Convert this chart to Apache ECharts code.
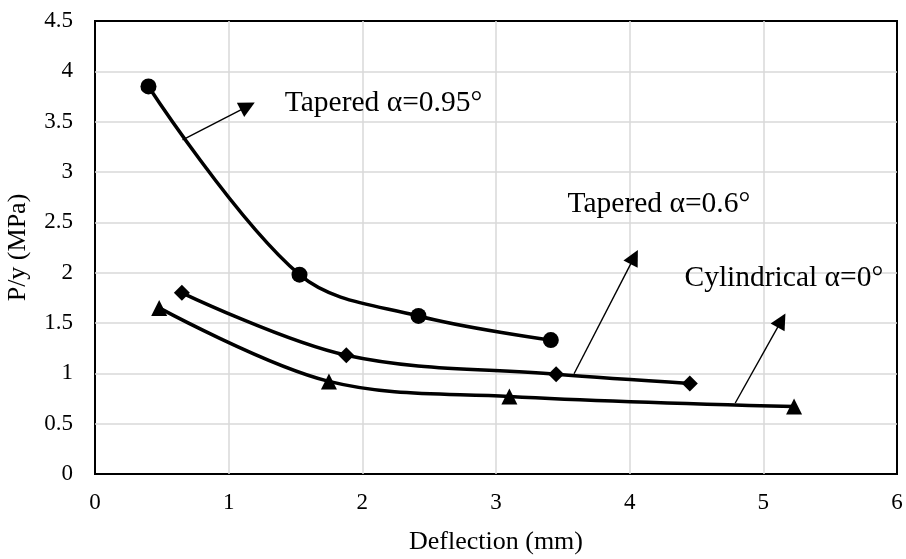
<!DOCTYPE html>
<html>
<head>
<meta charset="utf-8">
<script src="https://cdn.jsdelivr.net/npm/echarts@6/dist/echarts.min.js"></script>
<style>
  html, body { margin: 0; padding: 0; background: #fff; }
  #chart { width: 906px; height: 559px; }
</style>
</head>
<body>
<div id="chart"></div>
<script>
// Measured points: [deflection (mm), P/y (MPa)]
const taper095 = [[0.40, 3.85], [1.53, 1.98], [2.42, 1.57], [3.41, 1.33]];
const taper06 = [[0.65, 1.80], [1.88, 1.18], [3.45, 0.99], [4.45, 0.90]];
const cylindrical = [[0.48, 1.65], [1.75, 0.92], [3.10, 0.77], [5.23, 0.67]];

// Callout arrows: [tail, head] in data units
const arrows095 = [[0.655, 3.32], [1.142, 3.653]];
const arrows06 = [[3.584, 0.996], [4.034, 2.155]];
const arrowsCyl = [[4.79, 0.705], [5.136, 1.526]];

// Callout labels
const labelNames = ['Tapered α=0.95°', 'Tapered α=0.6°', 'Cylindrical α=0°'];
const labelAnchors = [[1.42, 3.68], [3.535, 2.68], [4.41, 1.94]];

const xTicks = [0, 6, 1];      // min, max, interval
const yTicks = [0, 4.5, 0.5];

const FONT = '"Liberation Serif", "Times New Roman", serif';

const chart = echarts.init(document.getElementById('chart'), null, { renderer: 'canvas' });

function curve(name, data, symbol, size) {
  return {
    name: name,
    type: 'line',
    data: data,
    smooth: 0.35,
    symbol: symbol,
    symbolSize: size,
    showAllSymbol: true,
    lineStyle: { color: '#000', width: 3.5 },
    itemStyle: { color: '#000', opacity: 1 },
    z: 5
  };
}

function arrow(pts) {
  return {
    type: 'lines',
    coordinateSystem: 'cartesian2d',
    symbol: ['none', 'triangle'],
    symbolSize: [0, 16],
    lineStyle: { color: '#000', width: 1.4, opacity: 1 },
    itemStyle: { color: '#000' },
    data: [{ coords: pts }],
    silent: true,
    z: 6
  };
}

chart.setOption({
  animation: false,
  backgroundColor: '#fff',
  grid: {
    left: 95, right: 9, top: 21, bottom: 85,
    outerBoundsMode: 'none',
    containLabel: false,
    show: true, borderColor: '#000', borderWidth: 2, backgroundColor: 'transparent'
  },
  xAxis: {
    type: 'value',
    min: xTicks[0], max: xTicks[1], interval: xTicks[2],
    name: 'Deflection (mm)',
    nameLocation: 'middle',
    nameGap: 55,
    nameTextStyle: { fontFamily: FONT, fontSize: 26, color: '#000' },
    axisLine: { show: false },
    axisTick: { show: false },
    axisLabel: { fontFamily: FONT, fontSize: 23, color: '#000', margin: 17 },
    splitLine: { show: true, showMinLine: false, showMaxLine: false, lineStyle: { color: '#d9d9d9', width: 1.5 } }
  },
  yAxis: {
    type: 'value',
    min: yTicks[0], max: yTicks[1], interval: yTicks[2],
    name: 'P/y (MPa)',
    nameLocation: 'middle',
    nameGap: 64,
    nameRotate: 90,
    nameTextStyle: { fontFamily: FONT, fontSize: 26, color: '#000' },
    axisLine: { show: false },
    axisTick: { show: false },
    axisLabel: { fontFamily: FONT, fontSize: 23, color: '#000', margin: 22 },
    splitLine: { show: true, showMinLine: false, showMaxLine: false, lineStyle: { color: '#d9d9d9', width: 1.5 } }
  },
  series: [
    curve(labelNames[0], taper095, 'circle', 16),
    curve(labelNames[1], taper06, 'diamond', 16),
    curve(labelNames[2], cylindrical, 'triangle', 16),
    arrow(arrows095),
    arrow(arrows06),
    arrow(arrowsCyl),
    {
      type: 'scatter',
      symbolSize: 0,
      silent: true,
      itemStyle: { opacity: 1, color: '#000' },
      data: labelAnchors.map((p, i) => ({ value: p, name: labelNames[i] })),
      label: {
        show: true,
        position: 'right',
        distance: 0,
        formatter: p => p.name,
        fontFamily: FONT,
        fontSize: 29.5,
        color: '#000',
        opacity: 1
      },
      z: 7
    }
  ]
});
</script>
</body>
</html>
